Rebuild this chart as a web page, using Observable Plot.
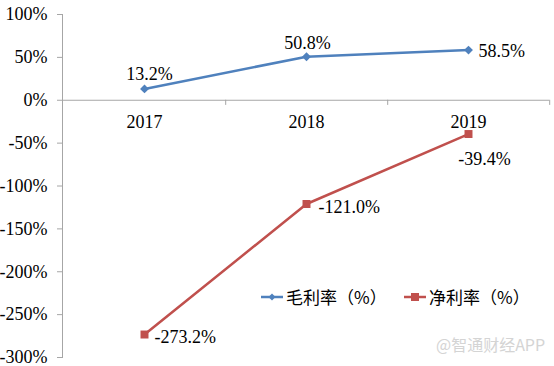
<!DOCTYPE html>
<html>
<head>
<meta charset="utf-8">
<script src="https://cdn.jsdelivr.net/npm/d3@7"></script>
<script src="https://cdn.jsdelivr.net/npm/@observablehq/plot@0.6"></script>
<style>
  html, body { margin: 0; padding: 0; background: #fff; }
  #wrap { position: relative; width: 554px; height: 366px; }
  .legend { position: absolute; top: 286px; height: 22px; font-family: "Noto Sans CJK SC", sans-serif; font-size: 17px; line-height: 22px; color: #000; display: flex; align-items: center; white-space: nowrap; }
  .legend svg { margin-right: 3px; }
  .wm { position: absolute; left: 436px; top: 333px; font-family: "Noto Sans CJK SC", sans-serif; font-size: 16px; line-height: 22px; color: #d4d4d4; }
</style>
</head>
<body>
<div id="wrap"></div>
<script>
const years = ["2017", "2018", "2019"];
const grossMargin = [13.2, 50.8, 58.5];
const netMargin = [-273.2, -121.0, -39.4];
const yTicks = [100, 50, 0, -50, -100, -150, -200, -250, -300];
const seriesNames = ["毛利率（%）", "净利率（%）"];
const colors = ["#4f81bd", "#c0504d"];

const gross = years.map((y, i) => ({year: y, value: grossMargin[i]}));
const net = years.map((y, i) => ({year: y, value: netMargin[i]}));
const fmt = v => v.toFixed(1) + "%";
const serif = "'Liberation Serif', 'Times New Roman', serif";
const fs = 18;

const chart = Plot.plot({
  width: 554,
  height: 366,
  marginLeft: 62,
  marginRight: 5,
  marginTop: 14,
  marginBottom: 9,
  style: {fontFamily: serif, fontSize: fs + "px", color: "#000", background: "#fff"},
  x: {type: "point", domain: years, padding: 0.5, axis: null},
  y: {domain: [-300, 100], axis: null},
  marks: [
    Plot.axisY({ticks: yTicks, label: null, tickSize: 5, tickPadding: 10, tickFormat: d => d + "%", fontSize: fs, fontFamily: serif, stroke: "#a6a6a6", fill: "#000", strokeOpacity: 1}),
    Plot.frame({anchor: "left", stroke: "#a6a6a6"}),
    Plot.ruleY([0], {stroke: "#a6a6a6"}),
    Plot.ruleX(years, {x: d => d, y1: 0, y2: -6, dx: 81.2, stroke: "#a6a6a6"}),
    Plot.text(years, {x: d => d, y: 0, dy: 22, text: d => d, fontSize: fs, fontFamily: serif, fill: "#000"}),
    Plot.line(gross, {x: "year", y: "value", stroke: colors[0], strokeWidth: 2.5}),
    Plot.dot(gross, {x: "year", y: "value", symbol: "diamond2", r: 4, fill: colors[0], stroke: "none"}),
    Plot.line(net, {x: "year", y: "value", stroke: colors[1], strokeWidth: 2.5}),
    Plot.dot(net, {x: "year", y: "value", symbol: "square", r: 4.5, fill: colors[1], stroke: "none"}),
    Plot.text([gross[0]], {x: "year", y: "value", text: d => fmt(d.value), dx: 5, dy: -15, fontSize: fs, fontFamily: serif, fill: "#000"}),
    Plot.text([gross[1]], {x: "year", y: "value", text: d => fmt(d.value), dx: 1, dy: -13, fontSize: fs, fontFamily: serif, fill: "#000"}),
    Plot.text([gross[2]], {x: "year", y: "value", text: d => fmt(d.value), dx: 10, dy: 1, textAnchor: "start", fontSize: fs, fontFamily: serif, fill: "#000"}),
    Plot.text([net[0]], {x: "year", y: "value", text: d => fmt(d.value), dx: 10, dy: 3, textAnchor: "start", fontSize: fs, fontFamily: serif, fill: "#000"}),
    Plot.text([net[1]], {x: "year", y: "value", text: d => fmt(d.value), dx: 12, dy: 3, textAnchor: "start", fontSize: fs, fontFamily: serif, fill: "#000"}),
    Plot.text([net[2]], {x: "year", y: "value", text: d => fmt(d.value), dx: 16, dy: 25, fontSize: fs, fontFamily: serif, fill: "#000"})
  ]
});

const wrap = document.getElementById("wrap");
wrap.appendChild(chart);

function legendItem(left, name, color, shape) {
  const div = document.createElement("div");
  div.className = "legend";
  div.style.left = left + "px";
  const marker = shape === "diamond"
    ? `<path d="M11,1.5 L14.5,5 L11,8.5 L7.5,5Z" fill="${color}"/>`
    : `<rect x="7" y="1" width="8" height="8" fill="${color}"/>`;
  div.innerHTML = `<svg width="22" height="10"><line x1="0" x2="22" y1="5" y2="5" stroke="${color}" stroke-width="2.5"/>${marker}</svg><span>${name}</span>`;
  wrap.appendChild(div);
}
legendItem(261, seriesNames[0], colors[0], "diamond");
legendItem(404, seriesNames[1], colors[1], "square");

const wm = document.createElement("div");
wm.className = "wm";
wm.textContent = "@智通财经APP";
wrap.appendChild(wm);
</script>
</body>
</html>
